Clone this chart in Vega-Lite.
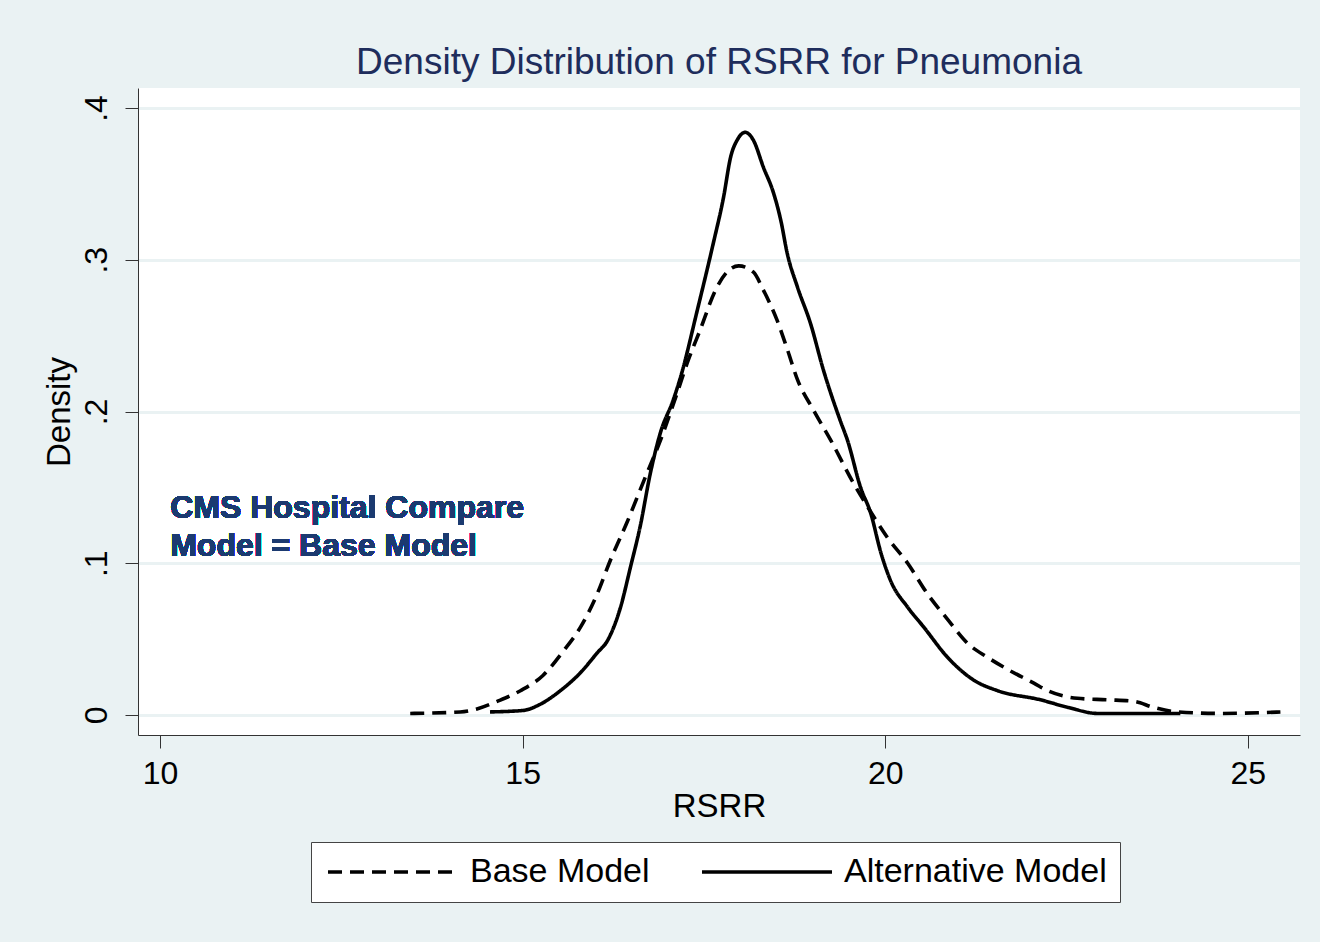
{
  "$schema": "https://vega.github.io/schema/vega-lite/v6.json",
  "width": 1162,
  "height": 647,
  "autosize": {"type": "none"},
  "padding": {"left": 138, "top": 88, "right": 20, "bottom": 207},
  "background": "#EAF2F3",
  "config": {
    "font": "Liberation Sans",
    "view": {"fill": "white", "stroke": null}
  },
  "title": {
    "text": "Density Distribution of RSRR for Pneumonia",
    "fontSize": 37,
    "font": "Liberation Sans",
    "fontWeight": "normal",
    "color": "#1E2D5C",
    "anchor": "middle",
    "offset": 6
  },
  "data": {
    "values": [
      {"model": "Base Model", "x": 13.45, "y": 0.001},
      {"model": "Base Model", "x": 14.14, "y": 0.002},
      {"model": "Base Model", "x": 14.37, "y": 0.004},
      {"model": "Base Model", "x": 14.65, "y": 0.009},
      {"model": "Base Model", "x": 14.97, "y": 0.016},
      {"model": "Base Model", "x": 15.28, "y": 0.026},
      {"model": "Base Model", "x": 15.56, "y": 0.042},
      {"model": "Base Model", "x": 15.80, "y": 0.058},
      {"model": "Base Model", "x": 16.03, "y": 0.080},
      {"model": "Base Model", "x": 16.21, "y": 0.102},
      {"model": "Base Model", "x": 16.44, "y": 0.127},
      {"model": "Base Model", "x": 16.66, "y": 0.153},
      {"model": "Base Model", "x": 16.90, "y": 0.181},
      {"model": "Base Model", "x": 17.13, "y": 0.212},
      {"model": "Base Model", "x": 17.27, "y": 0.232},
      {"model": "Base Model", "x": 17.45, "y": 0.254},
      {"model": "Base Model", "x": 17.66, "y": 0.280},
      {"model": "Base Model", "x": 17.82, "y": 0.292},
      {"model": "Base Model", "x": 17.98, "y": 0.296},
      {"model": "Base Model", "x": 18.18, "y": 0.292},
      {"model": "Base Model", "x": 18.32, "y": 0.280},
      {"model": "Base Model", "x": 18.51, "y": 0.260},
      {"model": "Base Model", "x": 18.65, "y": 0.241},
      {"model": "Base Model", "x": 18.79, "y": 0.221},
      {"model": "Base Model", "x": 19.01, "y": 0.201},
      {"model": "Base Model", "x": 19.25, "y": 0.181},
      {"model": "Base Model", "x": 19.56, "y": 0.153},
      {"model": "Base Model", "x": 19.76, "y": 0.137},
      {"model": "Base Model", "x": 20.03, "y": 0.117},
      {"model": "Base Model", "x": 20.31, "y": 0.100},
      {"model": "Base Model", "x": 20.58, "y": 0.080},
      {"model": "Base Model", "x": 20.86, "y": 0.063},
      {"model": "Base Model", "x": 21.14, "y": 0.047},
      {"model": "Base Model", "x": 21.41, "y": 0.038},
      {"model": "Base Model", "x": 21.69, "y": 0.030},
      {"model": "Base Model", "x": 22.05, "y": 0.021},
      {"model": "Base Model", "x": 22.24, "y": 0.016},
      {"model": "Base Model", "x": 22.65, "y": 0.011},
      {"model": "Base Model", "x": 23.07, "y": 0.010},
      {"model": "Base Model", "x": 23.43, "y": 0.009},
      {"model": "Base Model", "x": 23.70, "y": 0.005},
      {"model": "Base Model", "x": 24.03, "y": 0.002},
      {"model": "Base Model", "x": 24.63, "y": 0.001},
      {"model": "Base Model", "x": 25.45, "y": 0.002},
      {"model": "Alternative Model", "x": 14.55, "y": 0.002},
      {"model": "Alternative Model", "x": 15.01, "y": 0.003},
      {"model": "Alternative Model", "x": 15.24, "y": 0.007},
      {"model": "Alternative Model", "x": 15.52, "y": 0.016},
      {"model": "Alternative Model", "x": 15.80, "y": 0.028},
      {"model": "Alternative Model", "x": 16.03, "y": 0.041},
      {"model": "Alternative Model", "x": 16.17, "y": 0.049},
      {"model": "Alternative Model", "x": 16.35, "y": 0.071},
      {"model": "Alternative Model", "x": 16.49, "y": 0.098},
      {"model": "Alternative Model", "x": 16.62, "y": 0.124},
      {"model": "Alternative Model", "x": 16.76, "y": 0.159},
      {"model": "Alternative Model", "x": 16.90, "y": 0.186},
      {"model": "Alternative Model", "x": 17.08, "y": 0.208},
      {"model": "Alternative Model", "x": 17.18, "y": 0.223},
      {"model": "Alternative Model", "x": 17.41, "y": 0.267},
      {"model": "Alternative Model", "x": 17.63, "y": 0.311},
      {"model": "Alternative Model", "x": 17.77, "y": 0.341},
      {"model": "Alternative Model", "x": 17.87, "y": 0.368},
      {"model": "Alternative Model", "x": 17.96, "y": 0.379},
      {"model": "Alternative Model", "x": 18.07, "y": 0.384},
      {"model": "Alternative Model", "x": 18.18, "y": 0.379},
      {"model": "Alternative Model", "x": 18.32, "y": 0.361},
      {"model": "Alternative Model", "x": 18.46, "y": 0.344},
      {"model": "Alternative Model", "x": 18.56, "y": 0.326},
      {"model": "Alternative Model", "x": 18.65, "y": 0.304},
      {"model": "Alternative Model", "x": 18.79, "y": 0.282},
      {"model": "Alternative Model", "x": 18.97, "y": 0.258},
      {"model": "Alternative Model", "x": 19.15, "y": 0.227},
      {"model": "Alternative Model", "x": 19.38, "y": 0.194},
      {"model": "Alternative Model", "x": 19.48, "y": 0.181},
      {"model": "Alternative Model", "x": 19.66, "y": 0.150},
      {"model": "Alternative Model", "x": 19.80, "y": 0.133},
      {"model": "Alternative Model", "x": 19.94, "y": 0.107},
      {"model": "Alternative Model", "x": 20.07, "y": 0.089},
      {"model": "Alternative Model", "x": 20.31, "y": 0.071},
      {"model": "Alternative Model", "x": 20.53, "y": 0.058},
      {"model": "Alternative Model", "x": 20.86, "y": 0.038},
      {"model": "Alternative Model", "x": 21.22, "y": 0.023},
      {"model": "Alternative Model", "x": 21.55, "y": 0.016},
      {"model": "Alternative Model", "x": 22.14, "y": 0.010},
      {"model": "Alternative Model", "x": 22.52, "y": 0.005},
      {"model": "Alternative Model", "x": 22.93, "y": 0.001},
      {"model": "Alternative Model", "x": 24.07, "y": 0.001}
    ]
  },
  "layer": [
    {
      "mark": {"type": "line", "color": "black", "strokeWidth": 3.6, "interpolate": "monotone"},
      "encoding": {
        "x": {
          "field": "x", "type": "quantitative",
          "scale": {"domain": [9.696, 25.72], "nice": false, "zero": false},
          "axis": {
            "title": "RSRR", "values": [10, 15, 20, 25], "format": "d", "grid": false,
            "domainColor": "#333", "tickColor": "#333", "tickSize": 13,
            "labelFontSize": 32, "labelColor": "black", "labelPadding": 10,
            "titleFontSize": 33, "titleFontWeight": "normal", "titleColor": "black", "titlePadding": 1
          }
        },
        "y": {
          "field": "y", "type": "quantitative",
          "scale": {"domain": [-0.0132, 0.4132], "nice": false, "zero": false},
          "axis": {
            "title": "Density", "values": [0, 0.1, 0.2, 0.3, 0.4],
            "labelExpr": "datum.value == 0 ? '0' : replace(format(datum.value, '.1f'), '0.', '.')",
            "labelAngle": -90, "labelAlign": "center", "labelBaseline": "bottom",
            "grid": true, "gridColor": "#EAF2F3", "gridWidth": 3,
            "domainColor": "#333", "tickColor": "#333", "tickSize": 13,
            "labelFontSize": 32, "labelColor": "black", "labelPadding": 12,
            "titleFontSize": 33, "titleFontWeight": "normal", "titleColor": "black", "titlePadding": 4
          }
        },
        "strokeDash": {
          "field": "model", "type": "nominal",
          "scale": {"domain": ["Base Model", "Alternative Model"], "range": [[14, 8], [1, 0]]},
          "legend": {
            "title": null, "orient": "none", "legendX": 173, "legendY": 754,
            "direction": "horizontal", "columns": 2, "columnPadding": 44,
            "fillColor": "white", "strokeColor": "#444", "padding": 13,
            "symbolType": "M-1,0H9", "symbolSize": 676, "symbolStrokeWidth": 3.6, "symbolStrokeColor": "black",
            "labelFontSize": 34, "labelColor": "black", "labelOffset": 112, "labelLimit": 400
          }
        }
      }
    },
    {
      "mark": {"type": "text", "align": "left", "baseline": "alphabetic", "fontSize": 32, "fontWeight": "bold", "color": "#1B3A70", "lineHeight": 38, "text": ["CMS Hospital Compare", "Model = Base Model"]},
      "encoding": {"x": {"datum": 10.14}, "y": {"datum": 0.1298}}
    }
  ]
}
